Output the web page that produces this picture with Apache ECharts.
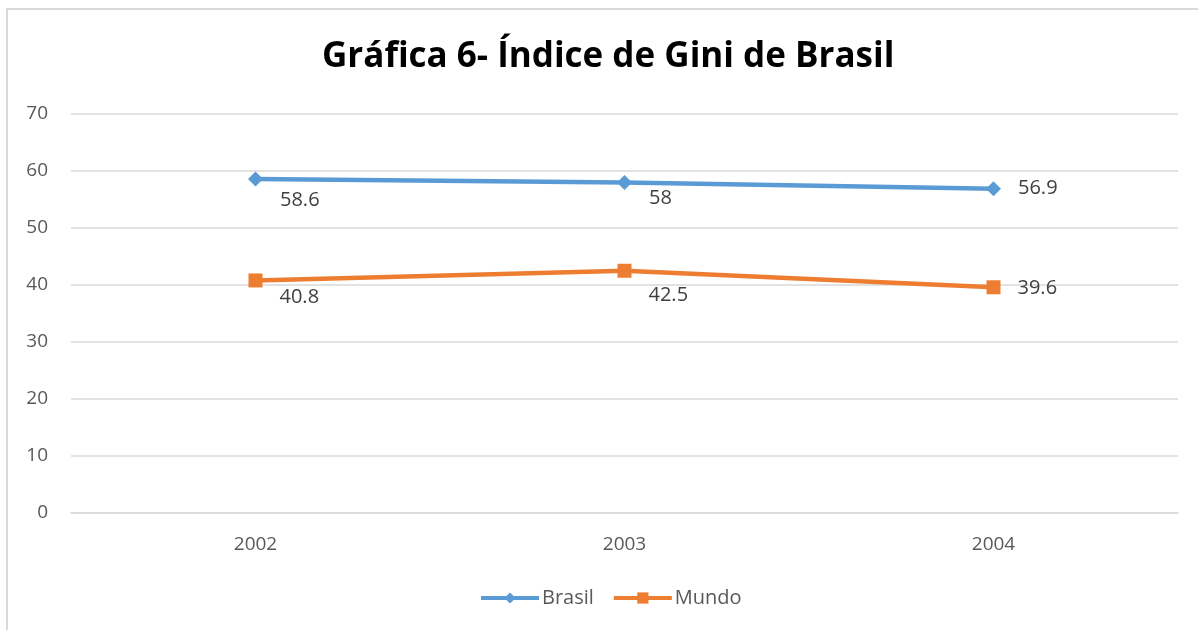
<!DOCTYPE html>
<html>
<head>
<meta charset="utf-8">
<script src="https://cdn.jsdelivr.net/npm/echarts@6/dist/echarts.min.js"></script>
<style>
  html, body { margin: 0; padding: 0; background: #fff; }
  #chart { width: 1198px; height: 630px; }
</style>
</head>
<body>
<div id="chart"></div>
<script>
var years = ['2002', '2003', '2004'];
var brasil = [58.6, 58, 56.9];
var mundo = [40.8, 42.5, 39.6];
var yTicks = [0, 10, 20, 30, 40, 50, 60, 70];

// label placement like the original (below-right for first two points)
var brasilOffsets = [[12, 21], [12, 16], [12, 0]];
var mundoOffsets = [[12, 17], [12, 25], [12, 1]];

function withLabels(values, offsets) {
  return values.map(function (v, i) {
    return { value: v, label: { offset: offsets[i] } };
  });
}

var chart = echarts.init(document.getElementById('chart'));
var font = 'Open Sans';

var option = {
  animation: false,
  textStyle: { fontFamily: font },
  graphic: [{
    type: 'rect',
    shape: { x: 7, y: 9, width: 1200, height: 640 },
    style: { fill: 'none', stroke: '#d9d9d9', lineWidth: 2 },
    silent: true
  }],
  title: {
    text: 'Gráfica 6- Índice de Gini de Brasil',
    left: 317,
    top: 35,
    textStyle: { fontFamily: font, fontWeight: 'bold', fontSize: 35, color: '#000' }
  },
  legend: {
    bottom: 17,
    left: 474,
    itemWidth: 58,
    itemHeight: 14,
    itemGap: 18,
    lineStyle: { width: 4 },
    textStyle: { fontFamily: font, fontSize: 20, color: '#595959', padding: [0, 0, 0, -2] },
    data: ['Brasil', 'Mundo']
  },
  grid: { left: 71, right: 20, top: 114, bottom: 117, containLabel: false },
  xAxis: {
    type: 'category',
    data: years,
    boundaryGap: true,
    axisLine: { lineStyle: { color: '#d9d9d9', width: 1.5 } },
    axisTick: { show: false },
    axisLabel: { color: '#595959', fontSize: 19, margin: 22, fontFamily: font }
  },
  yAxis: {
    type: 'value',
    min: yTicks[0],
    max: yTicks[yTicks.length - 1],
    interval: 10,
    axisLine: { show: false },
    axisTick: { show: false },
    splitLine: { lineStyle: { color: '#d9d9d9', width: 1.5 } },
    axisLabel: { color: '#595959', fontSize: 19, margin: 23, fontFamily: font }
  },
  series: [
    {
      name: 'Brasil',
      type: 'line',
      data: withLabels(brasil, brasilOffsets),
      symbol: 'diamond',
      symbolSize: 15,
      lineStyle: { color: '#5B9BD5', width: 4.5 },
      itemStyle: { color: '#5B9BD5' },
      label: { show: true, position: 'right', color: '#404040', fontSize: 20, fontFamily: font }
    },
    {
      name: 'Mundo',
      type: 'line',
      data: withLabels(mundo, mundoOffsets),
      symbol: 'rect',
      symbolSize: 14,
      lineStyle: { color: '#ED7D31', width: 4.5 },
      itemStyle: { color: '#ED7D31' },
      label: { show: true, position: 'right', color: '#404040', fontSize: 20, fontFamily: font }
    }
  ]
};

chart.setOption(option);
</script>
</body>
</html>
